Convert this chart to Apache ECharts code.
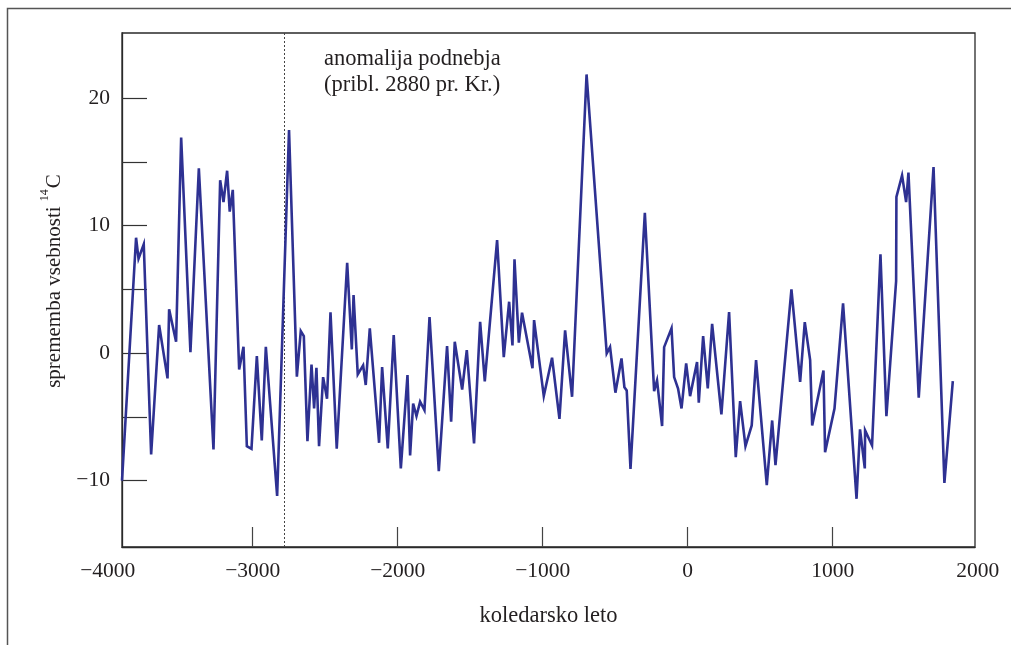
<!DOCTYPE html>
<html>
<head>
<meta charset="utf-8">
<script src="https://cdn.jsdelivr.net/npm/echarts@6/dist/echarts.min.js"></script>
<style>
html,body{margin:0;padding:0;background:#fff;}
#chart{width:1011px;height:645px;}
</style>
</head>
<body>
<div id="chart"></div>
<script>
// ---- data ----
const years = [
  -3900, -3803, -3786, -3750, -3699, -3644, -3586, -3575, -3527, -3492,
  -3428, -3370, -3269, -3223, -3200, -3175, -3157, -3136, -3092, -3062,
  -3039, -3007, -2970, -2936, -2908, -2830, -2748, -2694, -2667, -2646,
  -2621, -2593, -2575, -2559, -2541, -2513, -2486, -2462, -2419, -2347,
  -2315, -2303, -2274, -2237, -2219, -2191, -2127, -2106, -2067, -2026,
  -1977, -1931, -1913, -1892, -1869, -1844, -1814, -1779, -1715, -1658,
  -1630, -1605, -1554, -1522, -1472, -1430, -1398, -1313, -1267, -1230,
  -1207, -1193, -1163, -1141, -1069, -1058, -991,
  -934, -883, -844, -796, -696, -557, -534, -497, -455, -435,
  -419, -393, -294, -230, -210, -175, -161, -110, -92, -65,
  -41, -9, 18, 66, 78, 108, 140, 170, 234, 287,
  333, 363, 400, 443, 473, 547, 584, 607, 717, 777,
  809, 846, 860, 938, 949, 1014, 1073, 1166, 1190, 1223,
  1225, 1273, 1331, 1372, 1439, 1441, 1480, 1508, 1524, 1595,
  1697, 1772, 1830
];
const c14Change = [
  -10.0, 9.05, 7.4, 8.53, -7.95, 2.2, -1.98, 3.43, 0.89, 16.9,
  0.08, 14.5, -7.55, 13.55, 11.85, 14.3, 11.1, 12.8, -1.28, 0.5,
  -7.3, -7.5, -0.23, -6.85, 0.5, -11.2, 17.5, -1.85, 1.73, 1.33,
  -6.9, -0.89, -4.34, -1.15, -7.3, -1.88, -3.58, 3.2, -7.5, 7.09,
  0.29, 4.55, -1.67, -0.96, -2.5, 1.94, -7.03, -1.1, -7.47, 1.41,
  -9.04, -1.72, -8.02, -3.95, -4.94, -3.81, -4.47, 2.82, -9.25, 0.55,
  -5.38, 0.89, -2.85, 0.24, -7.08, 2.46, -2.22, 8.86, -0.31, 4.03,
  0.6, 7.35, 0.82, 3.17, -1.18, 2.59, -3.37,
  -0.36, -5.15, 1.78, -3.42, 21.85, -0.02, 0.47, -3.1, -0.42, -2.67,
  -2.93, -9.07, 11.01, -2.98, -2.14, -5.72, 0.47, 1.94, -1.88, -2.77,
  -4.34, -0.81, -3.37, -0.7, -3.89, 1.33, -2.77, 2.3, -4.81, 3.22,
  -8.16, -3.76, -7.29, -5.67, -0.55, -10.35, -5.28, -8.78, 5.0, -2.25,
  2.43, -0.55, -5.67, -1.36, -7.76, -4.34, 3.9, -11.42, -5.98, -9.04,
  -6.06, -7.24, 7.74, -4.94, 5.65, 12.24, 13.94, 11.84, 14.15, -3.5,
  14.59, -10.17, -2.2
];
const xTickValues = [-3000, -2000, -1000, 0, 1000];
const xLabelValues = [-4000, -3000, -2000, -1000, 0, 1000, 2000];
const yTickValues = [-10, -5, 0, 5, 10, 15, 20];
const yLabelValues = [-10, 0, 10, 20];
const anomalyYear = -2782;
const xTitle = 'koledarsko leto';
const annotationLines = ['anomalija podnebja', '(pribl. 2880 pr. Kr.)'];

// ---- chart ----
const FONT = 'Liberation Serif';
const TXT = '#231f20';
const fmt = v => String(v).replace('-', '\u2212');
const points = years.map((y, i) => [y, c14Change[i]]);

const chart = echarts.init(document.getElementById('chart'), null, {renderer: 'canvas'});
chart.setOption({
  animation: false,
  backgroundColor: '#fff',
  grid: [
    {left: 122, right: 36, top: 33, bottom: 98, show: true, borderColor: '#2a2a2a', borderWidth: 1.3, backgroundColor: 'transparent'},
    {left: 107.7, right: 33.3, top: 33, bottom: 98, show: false}
  ],
  xAxis: [
    {
      type: 'value', gridIndex: 0, min: -3900, max: 1983,
      axisLine: {show: true, onZero: false, lineStyle: {color: '#2a2a2a', width: 1.3}},
      axisTick: {show: true, inside: true, length: 20, customValues: xTickValues, lineStyle: {color: '#444', width: 1.2}},
      axisLabel: {show: false},
      splitLine: {show: false},
      name: xTitle, nameLocation: 'middle', nameGap: 58,
      nameTextStyle: {fontFamily: FONT, fontSize: 22.5, color: TXT}
    },
    {
      type: 'value', gridIndex: 1, min: -4000, max: 2000, interval: 1000,
      axisLine: {show: false}, axisTick: {show: false}, splitLine: {show: false},
      axisLabel: {show: true, margin: 13, fontFamily: FONT, fontSize: 21.5, color: TXT,
        customValues: xLabelValues, formatter: fmt}
    }
  ],
  yAxis: [
    {
      type: 'value', gridIndex: 0, min: -15.2, max: 25.1,
      axisLine: {show: true, onZero: false, lineStyle: {color: '#2a2a2a', width: 1.3}},
      axisTick: {show: true, inside: true, length: 25, customValues: yTickValues, lineStyle: {color: '#333', width: 1.2}},
      axisLabel: {show: true, margin: 12, fontFamily: FONT, fontSize: 21.5, color: TXT,
        padding: [4, 0, 0, 0],
        customValues: yLabelValues, formatter: fmt},
      splitLine: {show: false}
    },
    {
      type: 'value', gridIndex: 1, min: -15.2, max: 25.1, show: false
    }
  ],
  series: [{
    type: 'line',
    xAxisIndex: 0, yAxisIndex: 0,
    data: points,
    showSymbol: false,
    symbol: 'none',
    lineStyle: {color: '#2e3192', width: 2.6, join: 'miter', miterLimit: 6},
    z: 3,
    markLine: {
      silent: true, symbol: 'none',
      label: {show: false},
      lineStyle: {color: '#444', width: 1, type: [2, 2]},
      data: [{xAxis: anomalyYear}],
      z: 2
    }
  }],
  graphic: [
    {
      type: 'rect', silent: true, z: 0,
      shape: {x: 7.5, y: 8.5, width: 1200, height: 1000},
      style: {fill: 'none', stroke: '#555', lineWidth: 1.5}
    },
    {
      type: 'text', silent: true, z: 10,
      x: 52, y: 281, rotation: Math.PI / 2,
      style: {
        text: '{a|sprememba vsebnosti }{s|14}{a|C}',
        align: 'center', verticalAlign: 'middle',
        fill: TXT,
        rich: {
          a: {fontFamily: FONT, fontSize: 21, fill: TXT, lineHeight: 26, verticalAlign: 'bottom'},
          s: {fontFamily: FONT, fontSize: 12, fill: TXT, lineHeight: 26, verticalAlign: 'top', padding: [0, 1, 0, 0]}
        }
      }
    },
    {
      type: 'text', silent: true, z: 10,
      x: 324, y: 46,
      style: {
        text: annotationLines.join('\n'),
        fontFamily: FONT, fontSize: 22.5, lineHeight: 26, fill: TXT,
        align: 'left', verticalAlign: 'top'
      }
    }
  ]
});
</script>
</body>
</html>
